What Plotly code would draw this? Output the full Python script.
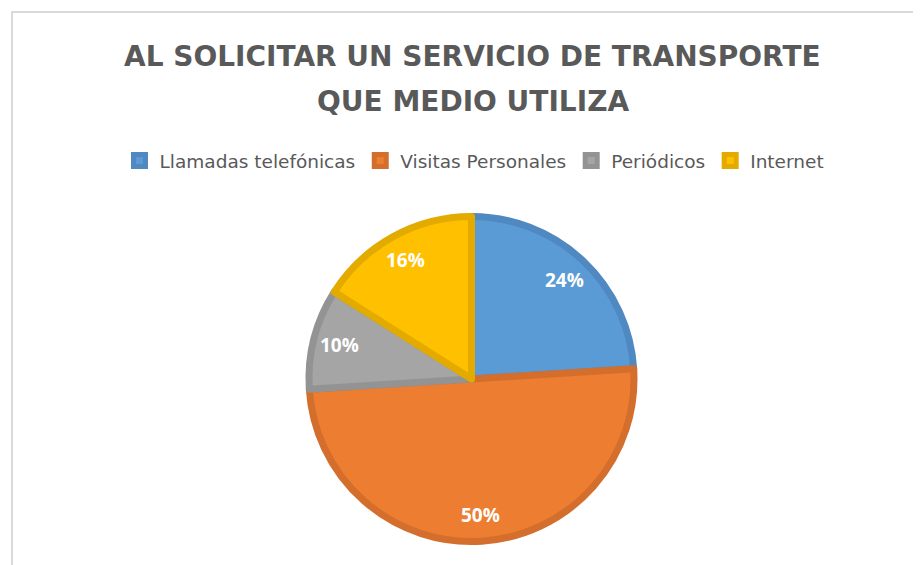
import math
import plotly.graph_objects as go

# data
categories = ["Llamadas telefónicas", "Visitas Personales", "Periódicos", "Internet"]
shares = [24, 50, 10, 16]
fill_colors = ["#5B9BD5", "#ED7D31", "#A5A5A5", "#FFC000"]
edge_colors = ["#5089C2", "#D46E2C", "#939393", "#E3AB00"]
title_lines = ["AL SOLICITAR UN SERVICIO DE TRANSPORTE", "QUE MEDIO UTILIZA"]

W, H = 921, 565
# the page adds an 8px body margin, so figure coords = page coords - 8
cx, cy = 463.5, 371      # pie centre (px)
edge = 7                 # slice outline width
r = 166 - edge / 2       # domain radius so the outline ends at ~166px

fig = go.Figure(
    go.Pie(
        labels=categories,
        values=shares,
        sort=False,
        direction="clockwise",
        rotation=0,
        marker=dict(colors=fill_colors, line=dict(color=edge_colors, width=edge)),
        textinfo="none",
        domain=dict(
            x=[(cx - r) / W, (cx + r) / W],
            y=[1 - (cy + r) / H, 1 - (cy - r) / H],
        ),
        hoverinfo="label+percent",
    )
)

# percentage labels, Excel "best fit" style, out near the rim
total = sum(shares)
acc = 0
annotations = []
for v in shares:
    mid = (acc + v / 2) / total * 2 * math.pi
    acc += v
    rr = 0.82 * 166
    px = cx + rr * math.sin(mid)
    py = cy - rr * math.cos(mid)
    annotations.append(
        dict(
            x=px / W, y=1 - py / H, xref="paper", yref="paper",
            text=f"<b>{round(100 * v / total)}%</b>", showarrow=False,
            font=dict(family="Open Sans", size=19, color="white"),
            xanchor="center", yanchor="middle",
        )
    )

# two-line title
for i, line in enumerate(title_lines):
    annotations.append(
        dict(
            x=464.5 / W, y=1 - (49 + 44 * i) / H, xref="paper", yref="paper",
            text=f"<b>{line}</b>", showarrow=False,
            font=dict(family="DejaVu Sans", size=28, color="#595959"),
            xanchor="center", yanchor="middle",
        )
    )

fig.update_layout(
    width=W,
    height=H,
    margin=dict(l=0, r=0, t=0, b=0),
    paper_bgcolor="white",
    annotations=annotations,
    legend=dict(
        orientation="h",
        x=466.5 / W,
        xanchor="center",
        y=1 - 153 / H,
        yanchor="middle",
        font=dict(family="DejaVu Sans", size=18.5, color="#595959"),
        traceorder="normal",
    ),
    shapes=[
        dict(
            type="rect",
            xref="paper",
            yref="paper",
            x0=4 / W,
            x1=1.02,
            y0=-0.02,
            y1=1 - 4 / H,
            line=dict(color="#D9D9D9", width=2),
        )
    ],
)

fig.write_html("out.html")
